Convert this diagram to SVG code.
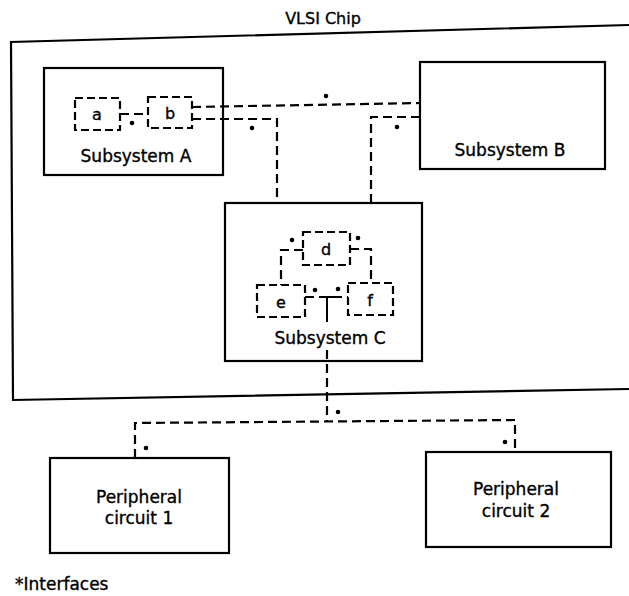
<svg xmlns="http://www.w3.org/2000/svg" width="629" height="596" viewBox="0 0 629 596">
<style>
  .box { fill: none; stroke: #000; stroke-width: 2.2; }
  .ibox { fill: none; stroke: #000; stroke-width: 2.2; stroke-dasharray: 8 4; }
  .conn { fill: none; stroke: #000; stroke-width: 2.2; stroke-dasharray: 9 5; }
  .stub { fill: none; stroke: #000; stroke-width: 2; }
  .dot { fill: #000; }
  text { font-family: "DejaVu Sans", "Liberation Sans", sans-serif; font-size: 17px; fill: #000; stroke: #000; stroke-width: 0.35; }
  .mid { text-anchor: middle; }
  .small { font-size: 16px; }
</style>
<rect width="629" height="596" fill="#fff"/>

<g id="vlsi-chip">
  <polyline class="box" points="629,25 11,42 13,400 629,389"/>
  <text class="mid small" x="323" y="24">VLSI Chip</text>
</g>

<g id="subsystem-a">
  <rect class="box" x="44" y="68" width="179" height="107"/>
  <text class="mid" x="136" y="162">Subsystem A</text>
</g>
<g id="block-a">
  <rect class="ibox" x="75" y="98" width="45" height="32"/>
  <text class="mid small" x="97" y="120">a</text>
</g>
<g id="block-b">
  <rect class="ibox" x="148" y="97" width="44" height="31"/>
  <text class="mid small" x="170" y="119">b</text>
</g>

<g id="subsystem-b">
  <rect class="box" x="420" y="62" width="185" height="107"/>
  <text class="mid" x="510" y="156">Subsystem B</text>
</g>

<g id="subsystem-c">
  <rect class="box" x="225" y="203" width="197" height="158"/>
  <text class="mid" x="330" y="344">Subsystem C</text>
</g>
<g id="block-d">
  <rect class="ibox" x="303" y="232" width="47" height="33"/>
  <text class="mid small" x="326" y="255">d</text>
</g>
<g id="block-e">
  <rect class="ibox" x="257" y="285" width="48" height="32"/>
  <text class="mid small" x="281" y="308">e</text>
</g>
<g id="block-f">
  <rect class="ibox" x="348" y="283" width="45" height="32"/>
  <text class="mid small" x="370" y="306">f</text>
</g>

<g id="peripheral-1">
  <rect class="box" x="50" y="458" width="179" height="95"/>
  <text class="mid" x="139" y="503">Peripheral</text>
  <text class="mid" x="139" y="524">circuit 1</text>
</g>
<g id="peripheral-2">
  <rect class="box" x="426" y="452" width="185" height="95"/>
  <text class="mid" x="516" y="495">Peripheral</text>
  <text class="mid" x="516" y="517">circuit 2</text>
</g>

<g id="connectors">
  <path class="conn" d="M120,114 L148,114"/>
  <path class="conn" d="M192,107 L420,103"/>
  <path class="conn" d="M192,119 L277,119 L277,203"/>
  <path class="conn" d="M420,117 L371,117 L371,203"/>
  <path class="conn" d="M303,250 L281,250 L281,285"/>
  <path class="conn" d="M350,249 L371,249 L371,283"/>
  <path class="conn" d="M305,297 L348,297"/>
  <path class="stub" d="M320,297 L334,297 M327,297 L327,322"/>
  <path class="conn" d="M327,350 L327,421"/>
  <path class="conn" d="M135,458 L135,423 L515,420 L515,452"/>
  <circle class="dot" cx="132" cy="123" r="2.3"/>
  <circle class="dot" cx="326" cy="96" r="2.3"/>
  <circle class="dot" cx="252" cy="128" r="2.3"/>
  <circle class="dot" cx="397" cy="127" r="2.3"/>
  <circle class="dot" cx="292" cy="240" r="2.3"/>
  <circle class="dot" cx="358" cy="238" r="2.3"/>
  <circle class="dot" cx="315" cy="290" r="2.3"/>
  <circle class="dot" cx="338" cy="289" r="2.3"/>
  <circle class="dot" cx="338" cy="412" r="2.3"/>
  <circle class="dot" cx="146" cy="448" r="2.3"/>
  <circle class="dot" cx="505" cy="442" r="2.3"/>
</g>

<text x="15" y="590">*Interfaces</text>
</svg>
